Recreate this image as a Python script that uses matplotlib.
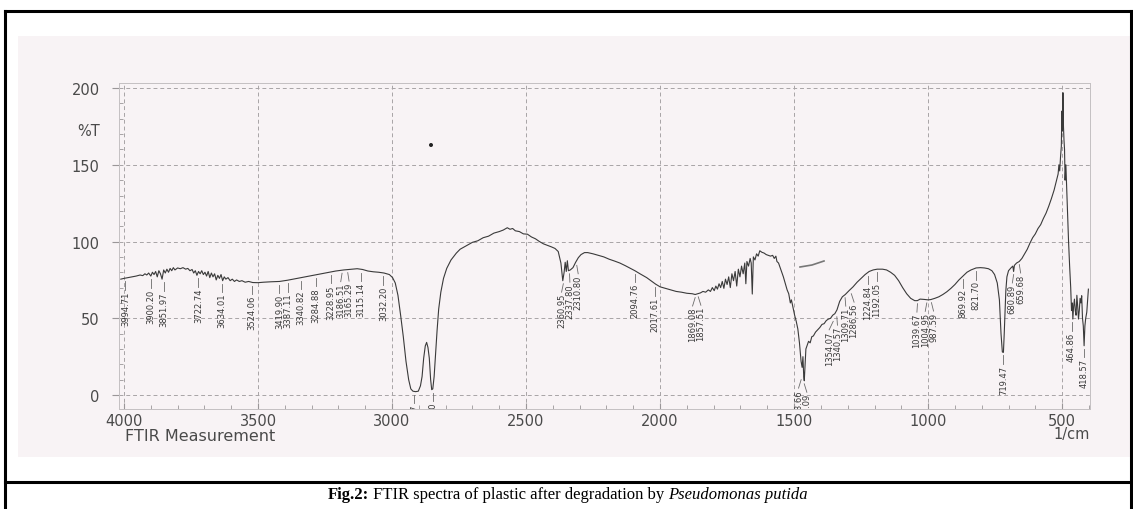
import numpy as np
import matplotlib.pyplot as plt
from matplotlib.patches import Rectangle, Ellipse
from matplotlib.lines import Line2D
from matplotlib.ticker import MultipleLocator

# FTIR spectrum (wavenumber 1/cm, %T)
wavenumber = [4012, 4000, 3985, 3970, 3955, 3940, 3930, 3922, 3915, 3908, 3900, 3894, 3888,
              3882, 3876, 3870, 3864, 3858, 3852, 3846, 3840, 3834, 3828, 3822, 3816, 3810,
              3800, 3790, 3780, 3770, 3762, 3754, 3746, 3740, 3734, 3728, 3722, 3716, 3710,
              3704, 3698, 3692, 3686, 3680, 3674, 3668, 3662, 3656, 3650, 3644, 3638, 3632,
              3626, 3620, 3612, 3604, 3596, 3588, 3580, 3570, 3560, 3548, 3535, 3520, 3500,
              3480, 3450, 3420, 3390, 3360, 3330, 3300, 3270, 3240, 3210, 3180, 3150, 3130,
              3110, 3090, 3070, 3050, 3030, 3010, 2998, 2988, 2978, 2968, 2958, 2948, 2938,
              2930, 2922, 2912, 2902, 2894, 2888, 2882, 2876, 2871, 2866, 2861, 2856, 2852,
              2848, 2843, 2838, 2832, 2826, 2818, 2808, 2796, 2780, 2760, 2746, 2720, 2700,
              2680, 2660, 2640, 2620, 2600, 2585, 2570, 2560, 2550, 2540, 2525, 2510, 2495,
              2480, 2465, 2450, 2435, 2420, 2405, 2392, 2380, 2370, 2363, 2358, 2354, 2350,
              2346, 2342, 2335, 2325, 2315, 2305, 2295, 2282, 2270, 2250, 2230, 2210, 2190,
              2170, 2150, 2130, 2110, 2094, 2075, 2050, 2030, 2017, 2000, 1980, 1960, 1940,
              1920, 1900, 1880, 1869, 1860, 1850, 1840, 1830, 1820, 1812, 1805, 1798, 1792,
              1786, 1780, 1774, 1768, 1762, 1756, 1750, 1744, 1738, 1732, 1726, 1720, 1714,
              1708, 1702, 1696, 1690, 1684, 1680, 1676, 1670, 1664, 1660, 1656, 1652, 1646,
              1640, 1634, 1628, 1620, 1612, 1604, 1596, 1588, 1580, 1574, 1568, 1564, 1558,
              1550, 1540, 1532, 1526, 1520, 1514, 1510, 1504, 1498, 1492, 1486, 1480, 1474,
              1470, 1467, 1464, 1462, 1459, 1456, 1452, 1446, 1440, 1434, 1428, 1420, 1412,
              1404, 1396, 1388, 1380, 1372, 1364, 1356, 1348, 1340, 1330, 1320, 1309, 1295,
              1280, 1265, 1250, 1235, 1220, 1205, 1190, 1170, 1155, 1140, 1125, 1110, 1095,
              1080, 1065, 1050, 1040, 1030, 1015, 1000, 990, 975, 960, 945, 930, 915, 900,
              885, 870, 855, 840, 821, 805, 790, 775, 762, 752, 742, 734, 728, 723, 719, 716,
              713, 710, 706, 700, 690, 684, 681, 678, 670, 660, 650, 640, 630, 620, 610, 600,
              590, 580, 570, 560, 550, 540, 530, 520, 515, 512, 509, 506, 503, 501, 499, 497,
              495, 493, 491, 489, 486, 483, 480, 476, 472, 468, 465, 462, 460, 457, 454, 451,
              448, 445, 442, 439, 436, 433, 430, 427, 424, 421, 418, 415, 412, 408, 405, 402]
transmittance = [75.5, 76.0, 76.5, 77.0, 77.5, 78.2, 77.8, 79.0, 78.2, 79.5, 77.5, 80.0, 78.5,
                 80.5, 77.0, 81.0, 79.0, 75.5, 81.5, 79.5, 82.0, 80.0, 82.5, 81.0, 83.0, 81.5,
                 82.8, 82.3, 83.0, 82.0, 82.5, 81.0, 81.8, 79.5, 81.0, 78.0, 80.5, 79.0, 81.0,
                 78.5, 80.0, 77.5, 80.5, 76.5, 79.5, 77.0, 79.0, 75.0, 78.0, 76.0, 78.5, 74.5,
                 77.0, 75.5, 76.5, 74.5, 75.5, 74.0, 75.0, 74.0, 74.5, 73.5, 74.0, 73.3, 73.2,
                 73.5, 73.8, 74.0, 74.8, 75.8, 76.8, 77.8, 78.8, 79.8, 80.8, 81.5, 82.0, 82.3,
                 81.8, 80.8, 80.3, 80.0, 79.5, 78.5, 76.5, 73.0, 65.0, 52.0, 38.0, 22.0, 10.0,
                 4.0, 2.5, 2.2, 2.5, 6.0, 12.0, 24.0, 32.0, 34.3, 31.0, 24.0, 10.0, 3.5,
                 4.0, 12.0, 26.0, 42.0, 56.0, 67.0, 76.0, 82.5, 88.0, 92.5, 95.0, 97.5, 99.5,
                 100.5, 102.5, 103.5, 105.5, 106.5, 107.5, 109.0, 108.0, 108.5, 107.0, 106.5, 105.0, 104.8,
                 103.0, 101.8, 100.0, 98.5, 97.5, 96.5, 95.5, 93.5, 86.0, 74.5, 80.0, 86.5, 80.5,
                 87.5, 81.0, 81.5, 83.0, 86.5, 89.5, 91.5, 92.8, 92.8, 92.0, 91.0, 90.0, 88.5,
                 87.3, 86.0, 84.3, 82.5, 81.0, 79.0, 76.5, 74.0, 72.3, 70.5, 69.5, 68.5, 67.5,
                 67.0, 66.3, 66.0, 65.5, 66.0, 66.5, 67.5, 67.0, 68.5, 67.5, 70.0, 68.0, 71.0,
                 69.0, 72.5, 70.0, 74.0, 69.5, 75.5, 72.0, 77.0, 70.0, 79.0, 74.5, 80.5, 71.0,
                 82.0, 77.0, 84.0, 79.0, 86.0, 72.5, 87.0, 84.0, 89.0, 86.0, 65.8, 90.0, 88.0,
                 92.0, 90.5, 94.0, 93.0, 92.5, 91.5, 91.0, 90.5, 91.0, 89.0, 90.5, 87.0, 86.0,
                 82.0, 77.0, 72.0, 68.5, 66.0, 60.0, 62.0, 57.0, 52.0, 48.0, 43.0, 34.0, 22.0,
                 18.0, 25.0, 12.0, 9.3, 20.0, 30.0, 32.0, 35.0, 34.0, 38.0, 38.5, 41.0, 42.5,
                 44.0, 46.0, 46.5, 48.5, 49.5, 50.0, 52.0, 53.0, 55.5, 61.0, 64.0, 65.5, 68.0,
                 70.5, 73.5, 76.0, 78.5, 80.5, 81.5, 82.0, 82.0, 81.5, 80.0, 78.0, 74.5, 70.0,
                 66.0, 63.0, 61.5, 61.5, 62.5, 62.3, 62.0, 62.2, 63.0, 64.0, 65.5, 67.3, 69.5, 72.0,
                 75.0, 77.5, 80.0, 81.5, 82.8, 83.0, 82.8, 82.3, 81.0, 78.5, 73.0, 62.0, 40.0, 28.0, 27.8, 40.0,
                 55.0, 68.0, 77.0, 81.0, 83.0, 84.0, 80.5, 84.5, 86.0, 87.0, 89.0, 92.0, 95.0, 99.0, 102.5, 105.0,
                 108.5, 111.0, 115.0, 118.5, 123.0, 128.0, 133.5, 140.5, 144.0, 150.0, 146.0, 155.0, 162.0, 185.0, 172.0, 197.0,
                 175.0, 166.0, 160.0, 140.0, 150.0, 134.0, 120.0, 100.0, 84.0, 70.0, 55.0, 60.0, 49.5, 58.0, 62.5, 55.0,
                 52.0, 65.0, 58.0, 49.5, 55.0, 63.0, 60.0, 64.7, 50.0, 45.0, 32.1, 45.0, 50.0, 54.0, 62.0, 69.0]

# peak positions printed on the chart
peaks = [3994.71, 3900.20, 3851.97, 3722.74, 3634.01, 3524.06, 3419.90, 3387.11, 3340.82,
         3284.88, 3228.95, 3186.51, 3165.29, 3115.14, 3032.20, 2916.37, 2848.80, 2360.95,
         2337.80, 2310.80, 2094.76, 2017.61, 1869.08, 1857.51, 1473.66, 1462.09, 1354.07,
         1340.57, 1309.71, 1286.56, 1224.84, 1192.05, 1039.67, 1004.95, 987.59, 869.92,
         821.70, 719.47, 680.89, 659.68, 464.86, 418.57]

x_ticks = [4000, 3500, 3000, 2500, 2000, 1500, 1000, 500]
y_ticks = [0, 50, 100, 150, 200]

W, H = 1133, 510
fig = plt.figure(figsize=(W / 100, H / 100), dpi=100)
fig.patch.set_facecolor('white')

# scanned page background, the outer table frame and the scan specks
fig.patches.append(Rectangle((18 / W, 1 - 458 / H), (W - 18) / W, (458 - 37) / H,
                             transform=fig.transFigure, facecolor='#f8f3f5', edgecolor='none', zorder=-5))
fig.patches.append(Ellipse((431 / W, 1 - 146 / H), 4 / W, 4 / H, transform=fig.transFigure,
                           facecolor='#222222', edgecolor='none'))
fig.lines.append(Line2D([800 / W, 812 / W, 824 / W], [1 - 268 / H, 1 - 266 / H, 1 - 262 / H],
                        transform=fig.transFigure, color='#777777', lw=1.2))
frame = dict(transform=fig.transFigure, color='black', lw=2.2)
fig.lines.append(Line2D([5 / W, 5 / W], [0, 1 - 12 / H], **frame))
fig.lines.append(Line2D([1131 / W, 1131 / W], [0, 1 - 12 / H], **frame))
fig.lines.append(Line2D([5 / W, 1131 / W], [1 - 12 / H, 1 - 12 / H], **frame))
fig.lines.append(Line2D([5 / W, 1131 / W], [1 - 483 / H, 1 - 483 / H], **frame))

ax = fig.add_axes([119 / W, 1 - 410 / H, (1090 - 119) / W, (410 - 84) / H])
ax.set_facecolor('none')
ax.set_xlim(4018.7, 396)
ax.set_ylim(-9.1, 203.3)

for s in ax.spines.values():
    s.set_color('#c4c0c2')
    s.set_linewidth(0.7)

ax.set_xticks(x_ticks)
ax.set_yticks(y_ticks)
ax.xaxis.set_minor_locator(MultipleLocator(100))
ax.yaxis.set_minor_locator(MultipleLocator(10))
ax.tick_params(axis='both', which='major', colors='#9a9698', labelcolor='#4a4a4a', labelsize=10.5)
ax.tick_params(axis='x', which='major', direction='in', length=4, pad=3)
ax.tick_params(axis='y', which='major', direction='out', length=5, pad=9)
ax.tick_params(axis='both', which='minor', direction='in', length=3, colors='#9a9698')
ax.grid(True, which='major', color='#a8a4a6', linestyle=(0, (4, 3)), linewidth=0.7)

ax.plot(wavenumber, transmittance, color='#3a3a3a', lw=0.8, zorder=3)

# peak labels hanging under the trace, spread apart where they crowd
wn_asc = np.array(wavenumber)[::-1]
t_asc = np.array(transmittance)[::-1]
bases = []
for p in peaks:
    near = (wn_asc > p - 10) & (wn_asc < p + 10)
    b = np.interp(p, wn_asc, t_asc)
    if near.any():
        b = min(b, t_asc[near].min())
    bases.append(b)

gap = 31.0  # minimum label spacing in 1/cm (about 8 px)
pos = list(peaks)
for _ in range(200):
    for i in range(len(pos) - 1):
        d = pos[i] - pos[i + 1]
        if d < gap and abs(bases[i] - bases[i + 1]) < 25:
            s = (gap - d) / 2
            pos[i] += s
            pos[i + 1] -= s

for p, lx, b in zip(peaks, pos, bases):
    ax.plot([p, lx], [b - 2, b - 7.5], color='#6a6a6a', lw=0.6, zorder=2)
    ax.text(lx, b - 8, f'{p:.2f}', rotation=90, ha='center', va='top', fontsize=6.0,
            color='#3a3a3a', clip_on=True, zorder=2)

fig.text(100 / W, 1 - 131 / H, '%T', ha='right', va='center', fontsize=10.5, color='#4a4a4a')
fig.text(125 / W, 1 - 437 / H, 'FTIR Measurement', ha='left', va='center', fontsize=11.5, color='#4a4a4a')
fig.text(1090 / W, 1 - 435 / H, '1/cm', ha='right', va='center', fontsize=10.5, color='#4a4a4a')

# caption: bold label, plain text, italic species name
renderer = fig.canvas.get_renderer()
parts = [('Fig.2:', 'bold', 'normal'),
         (' FTIR spectra of plastic after degradation by ', 'normal', 'normal'),
         ('Pseudomonas putida', 'normal', 'italic')]
texts = [fig.text(0, 1 - 495 / H, s, fontsize=12, family='Liberation Serif', weight=w, style=st,
                  va='center', ha='left') for s, w, st in parts]
widths = [t.get_window_extent(renderer).width for t in texts]
x0 = 568 - sum(widths) / 2
for t, w in zip(texts, widths):
    t.set_x(x0 / W)
    x0 += w

fig.savefig('out.png', dpi=100)
